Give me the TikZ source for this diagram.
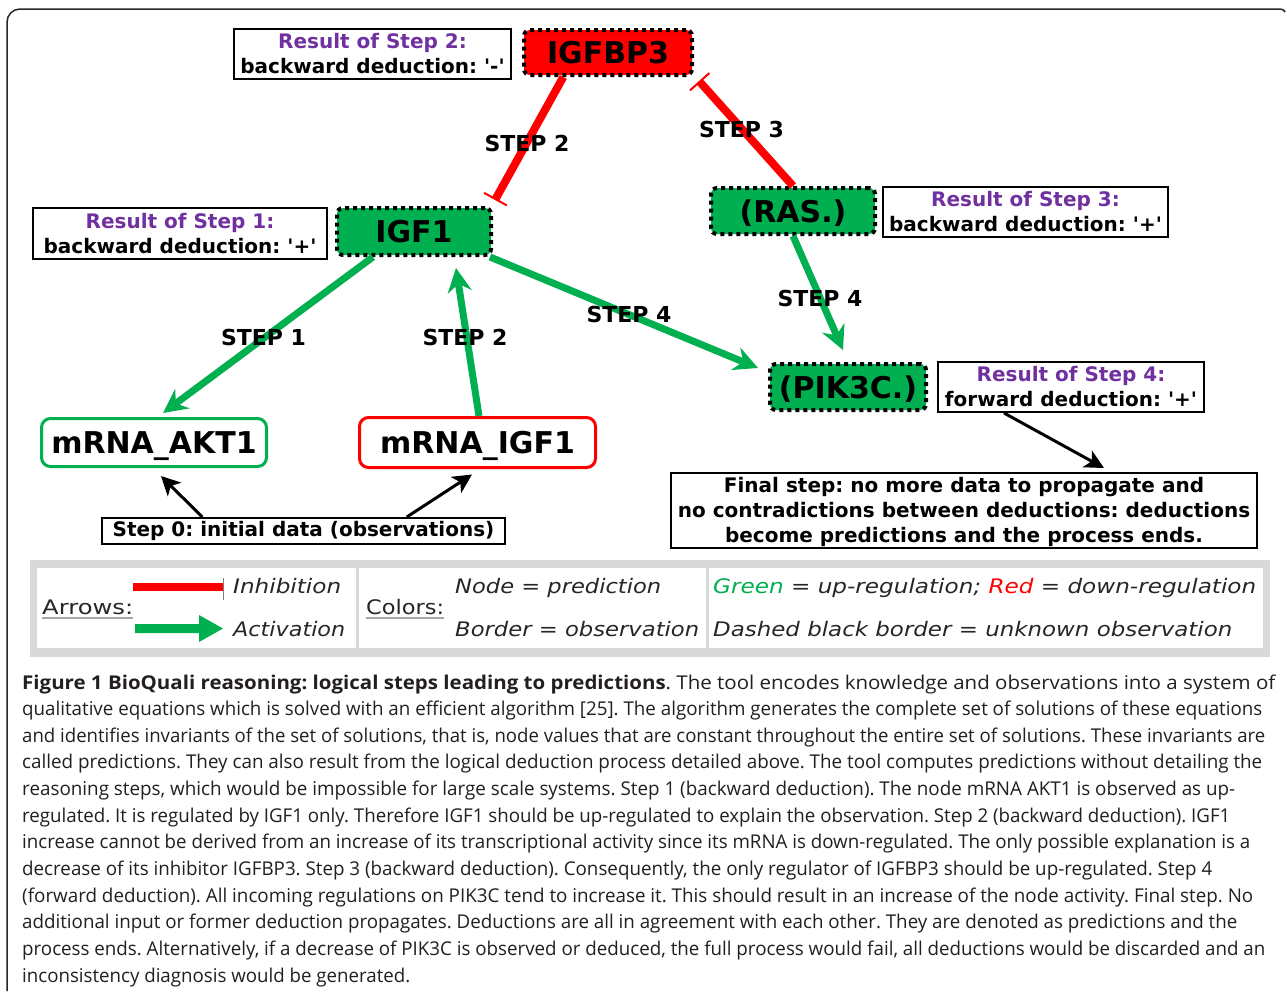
\documentclass[tikz,border=0pt]{standalone}
\usepackage{fontspec}
\setmainfont{DejaVu Sans}
\newfontfamily\capfont{Open Sans}
\usepackage{graphicx}
\usetikzlibrary{arrows.meta,calc}
\definecolor{ngreen}{HTML}{00B050}
\definecolor{nred}{HTML}{FF0000}
\definecolor{respurple}{HTML}{7030A0}
\definecolor{leggray}{HTML}{D9D9D9}
\definecolor{legtext}{HTML}{262626}
\definecolor{captext}{HTML}{231F20}
\newcommand\fitw[2]{\resizebox{#1pt}{\height}{#2}}
\newcommand\sq{\textquotesingle}
\frenchspacing
\begin{document}
\begin{tikzpicture}[x=1pt,y=-1pt,
  gene/.style={line width=4pt, dash pattern=on 4pt off 4pt, rounded corners=6pt, inner sep=0pt,
    text height=22pt, text depth=0pt, font=\fontsize{30}{36}\selectfont\bfseries},
  prednode/.style={gene, draw=black},
  obsnode/.style={line width=3pt, rounded corners=9pt, fill=white, inner sep=0pt,
    text height=22pt, text depth=0pt, font=\fontsize{30}{36}\selectfont\bfseries},
  resbox/.style={draw=black, line width=2pt, fill=white, inner sep=0pt, align=center,
    font=\fontsize{20}{25}\selectfont\bfseries},
  steplbl/.style={inner sep=0pt, font=\fontsize{22}{26}\selectfont\bfseries},
  act/.style={draw=ngreen, line width=7pt, -{Stealth[length=24pt,width=24pt,inset=8pt]}},
  inh/.style={draw=nred, line width=8pt, -{Bar[width=26pt,line width=2pt]}},
  obsarrow/.style={draw=black, line width=3pt, -{Stealth[length=19pt,width=19pt,inset=5pt]}},
  legtxt/.style={inner sep=0pt, anchor=base west, text=legtext, font=\fontsize{20}{24}\selectfont\itshape},
  legup/.style={inner sep=0pt, anchor=base west, text=legtext, font=\fontsize{20}{24}\selectfont},
  capline/.style={inner sep=0pt, anchor=base west, text=captext, font=\capfont\fontsize{19}{24}\selectfont},
]
\useasboundingbox (0,0) rectangle (1287,991);
\fill[white] (0,0) rectangle (1287,991);

% outer frame
\draw[line width=1.5pt, black!85] (7,991) -- (7,22) arc[start angle=180,end angle=90,radius=13pt]
  -- (1280,9) arc[start angle=90,end angle=30,radius=6pt];

% gene nodes
\node[prednode, fill=nred, minimum width=168pt, minimum height=45pt] (igfbp3) at (608,52.5) {IGFBP3};
\node[prednode, fill=ngreen, minimum width=154pt, minimum height=47pt] (igf1) at (414,231.5) {IGF1};
\node[prednode, fill=ngreen, minimum width=164pt, minimum height=46pt] (ras) at (793,211) {(RAS.)};
\node[prednode, fill=ngreen, minimum width=156pt, minimum height=46pt] (pik3c) at (848,387) {(PIK3C.)};
\node[obsnode, draw=ngreen, minimum width=225pt, minimum height=48pt] (akt1) at (154,442.5) {mRNA\_AKT1};
\node[obsnode, draw=nred, minimum width=236pt, minimum height=50pt] (migf1) at (477.5,442.5) {mRNA\_IGF1};

% result boxes
\node[resbox, minimum width=277pt, minimum height=50pt] (res2) at (372.5,54)
  {\textcolor{respurple}{Result of Step 2:}\\backward deduction: \sq-\sq};
\node[resbox, minimum width=294pt, minimum height=51pt] (res1) at (180,233.5)
  {\textcolor{respurple}{Result of Step 1:}\\backward deduction: \sq+\sq};
\node[resbox, minimum width=285pt, minimum height=50pt] (res3) at (1025.5,212)
  {\textcolor{respurple}{Result of Step 3:}\\backward deduction: \sq+\sq};
\node[resbox, minimum width=266pt, minimum height=50pt] (res4) at (1071,387)
  {\textcolor{respurple}{Result of Step 4:}\\forward deduction: \sq+\sq};
\node[resbox, minimum width=403pt, minimum height=26pt] (step0) at (303.5,531)
  {Step 0: initial data (observations)};
\node[resbox, minimum width=586pt, minimum height=75pt] (final) at (964,510.5)
  {\rule{0pt}{18pt}Final step: no more data to propagate and\\no contradictions between deductions: deductions\\become predictions and the process ends.};

% connectors
\draw[inh] ($(igfbp3.south west)!0.24!(igfbp3.south east)$) -- ([shift={(2,-6)}]igf1.north east);
\draw[inh] (ras.north) -- ([shift={(5,4)}]igfbp3.south east);
\draw[act] ($(igf1.south west)!0.24!(igf1.south east)$) -- ([shift={(9,-4)}]akt1.north);
\draw[act] ([xshift=1.5pt]migf1.north) -- ([shift={(42,11)}]igf1.south);
\draw[act] ([xshift=-3pt]igf1.south east) -- ([shift={(-10,6)}]pik3c.north west);
\draw[act] (ras.south) -- ([shift={(-5,-12)}]pik3c.north);
\draw[obsarrow] ($(step0.north west)!0.25!(step0.north east)$) -- ([shift={(7,8)}]akt1.south);
\draw[obsarrow] ($(step0.north west)!0.755!(step0.north east)$) -- ([shift={(-5.5,5.5)}]migf1.south);
\draw[obsarrow] ($(res4.south west)!0.25!(res4.south east)$) -- ([shift={(140,-4)}]final.north);

% step labels
\node[steplbl] (l2a) at (527,143) {STEP 2};
\node[steplbl] (l3) at (741.5,129.5) {STEP 3};
\node[steplbl] (l1) at (263.5,337.5) {STEP 1};
\node[steplbl] (l2b) at (465,337.5) {STEP 2};
\node[steplbl] (l4a) at (629,314) {STEP 4};
\node[steplbl] (l4b) at (820,298.5) {STEP 4};

% legend
\fill[leggray] (30,560) rectangle (1270,657);
\fill[white] (37,568) rectangle (356,648);
\fill[white] (359,568) rectangle (706,648);
\fill[white] (709,568) rectangle (1263,648);
\fill[nred] (133,583) rectangle (223,591);
\draw[gray, line width=1pt] (223,578) -- (223,600);
\fill[ngreen] (135,624) -- (199,624) -- (199,615) -- (223,628.5) -- (199,642) -- (199,633) -- (135,633) -- cycle;
\node[legup] (tarr) at (42,614) {\fitw{91}{Arrows:}};
\draw[gray!70, line width=1.5pt] (42,618) -- (133,618);
\node[legup] (tcol) at (366,614) {\fitw{78}{Colors:}};
\draw[gray!70, line width=1.5pt] (366,618) -- (444,618);
\node[legtxt] (tinh) at (233,593) {\fitw{108}{Inhibition}};
\node[legtxt] (tact) at (233,636) {\fitw{112}{Activation}};
\node[legtxt] (tnode) at (455,593) {\fitw{206}{Node = prediction}};
\node[legtxt] (tborder) at (455,636) {\fitw{244}{Border = observation}};
\node[legtxt] (tgreen) at (713,593) {\fitw{543}{\textcolor{ngreen}{Green} = up-regulation; \textcolor{nred}{Red} = down-regulation}};
\node[legtxt] (tdash) at (713,636) {\fitw{519}{Dashed black border = unknown observation}};

% caption
\node[capline] (c1) at (22,689) {\fitw{1253}{\textbf{Figure 1 BioQuali reasoning: logical steps leading to predictions}. The tool encodes knowledge and observations into a system of}};
\node[capline] (c2) at (22,715.65) {\fitw{1240}{qualitative equations which is solved with an efficient algorithm [25]. The algorithm generates the complete set of solutions of these equations}};
\node[capline] (c3) at (22,742.3) {\fitw{1243}{and identifies invariants of the set of solutions, that is, node values that are constant throughout the entire set of solutions. These invariants are}};
\node[capline] (c4) at (22,768.95) {\fitw{1240}{called predictions. They can also result from the logical deduction process detailed above. The tool computes predictions without detailing the}};
\node[capline] (c5) at (22,795.6) {\fitw{1213}{reasoning steps, which would be impossible for large scale systems. Step 1 (backward deduction). The node mRNA AKT1 is observed as up-}};
\node[capline] (c6) at (22,822.25) {\fitw{1208}{regulated. It is regulated by IGF1 only. Therefore IGF1 should be up-regulated to explain the observation. Step 2 (backward deduction). IGF1}};
\node[capline] (c7) at (22,848.9) {\fitw{1228}{increase cannot be derived from an increase of its transcriptional activity since its mRNA is down-regulated. The only possible explanation is a}};
\node[capline] (c8) at (22,875.55) {\fitw{1190}{decrease of its inhibitor IGFBP3. Step 3 (backward deduction). Consequently, the only regulator of IGFBP3 should be up-regulated. Step 4}};
\node[capline] (c9) at (22,902.2) {\fitw{1231}{(forward deduction). All incoming regulations on PIK3C tend to increase it. This should result in an increase of the node activity. Final step. No}};
\node[capline] (c10) at (22,928.85) {\fitw{1215}{additional input or former deduction propagates. Deductions are all in agreement with each other. They are denoted as predictions and the}};
\node[capline] (c11) at (22,955.5) {\fitw{1243}{process ends. Alternatively, if a decrease of PIK3C is observed or deduced, the full process would fail, all deductions would be discarded and an}};
\node[capline] (c12) at (22,982.15) {\fitw{388}{inconsistency diagnosis would be generated.}};
\end{tikzpicture}
\end{document}
